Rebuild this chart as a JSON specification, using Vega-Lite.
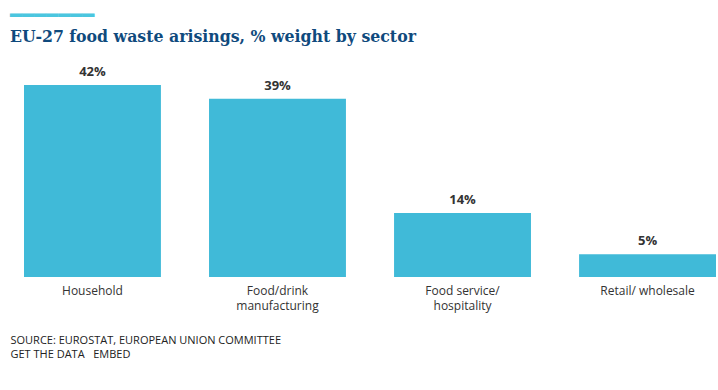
{
  "$schema": "https://vega.github.io/schema/vega-lite/v6.json",
  "width": 692,
  "height": 192,
  "autosize": {"type": "none"},
  "padding": {"left": 24, "top": 85, "right": 2, "bottom": 113},
  "background": "white",
  "title": {
    "text": "━━━━━━━",
    "subtitle": "EU-27 food waste arisings, % weight by sector",
    "anchor": "start",
    "frame": "group",
    "dx": -14,
    "font": "DejaVu Sans",
    "fontSize": 20,
    "color": "#4bc6df",
    "subtitleFont": "DejaVu Serif Condensed, Liberation Serif",
    "subtitleFontSize": 17.5,
    "subtitleFontWeight": "bold",
    "subtitleColor": "#0f4a7d",
    "subtitlePadding": 2,
    "offset": 21
  },
  "data": {
    "values": [
      {"sector": "Household", "pct": 0.42},
      {"sector": "Food/drink manufacturing", "pct": 0.39},
      {"sector": "Food service/ hospitality", "pct": 0.14},
      {"sector": "Retail/ wholesale", "pct": 0.05}
    ]
  },
  "encoding": {
    "x": {
      "field": "sector",
      "type": "nominal",
      "sort": null,
      "scale": {"paddingInner": 0.26, "paddingOuter": 0},
      "axis": {
        "domain": false,
        "ticks": false,
        "labelAngle": 0,
        "labelPadding": 8,
        "labelFont": "Open Sans",
        "labelFontSize": 12,
        "labelColor": "#333333",
        "labelLineHeight": 15,
        "labelExpr": "datum.label == 'Food/drink manufacturing' ? ['Food/drink','manufacturing'] : datum.label == 'Food service/ hospitality' ? ['Food service/','hospitality'] : datum.label",
        "title": ["SOURCE: EUROSTAT, EUROPEAN UNION COMMITTEE", "GET THE DATA\u00a0\u00a0 EMBED"],
        "titleAnchor": "start",
        "titleAlign": "left",
        "titleBaseline": "top",
        "titleX": -14,
        "titleY": 57,
        "titleFont": "Open Sans",
        "titleFontSize": 11,
        "titleFontWeight": "normal",
        "titleColor": "#222222",
        "titleLineHeight": 14
      }
    },
    "y": {
      "field": "pct",
      "type": "quantitative",
      "scale": {"domain": [0, 0.42]},
      "axis": null
    }
  },
  "layer": [
    {"mark": {"type": "bar", "color": "#40bad8"}},
    {
      "mark": {"type": "text", "baseline": "bottom", "dy": -6, "fontWeight": "bold", "fontSize": 13, "font": "Open Sans", "color": "#333333"},
      "encoding": {"text": {"field": "pct", "type": "quantitative", "format": ".0%"}}
    }
  ],
  "config": {"view": {"stroke": null}}
}
